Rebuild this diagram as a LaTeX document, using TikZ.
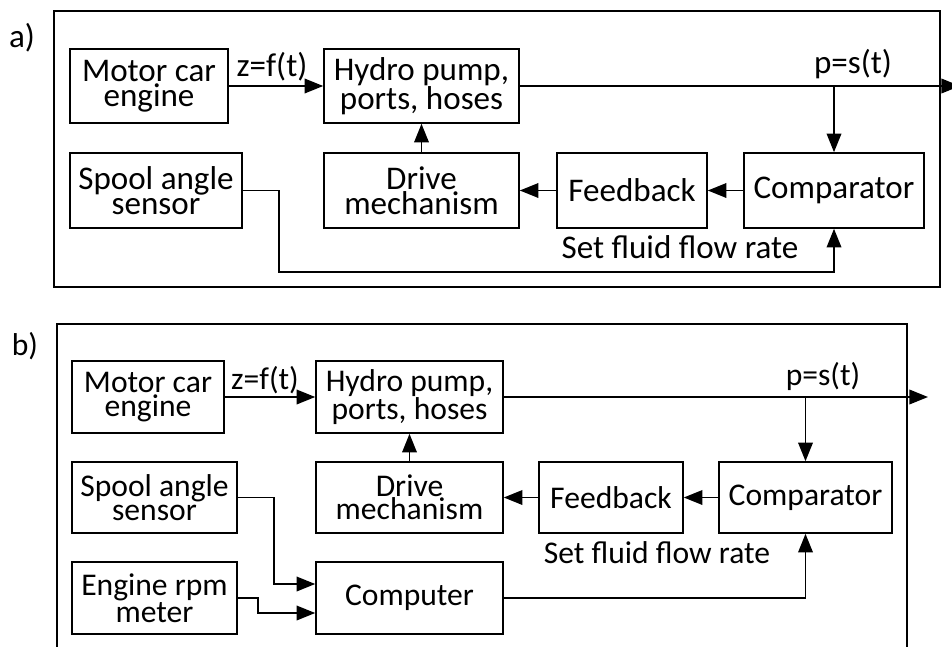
\documentclass[tikz,border=0pt]{standalone}
\usepackage{fontspec}
\setmainfont{Carlito}
\usetikzlibrary{arrows.meta}
\begin{document}
\begin{tikzpicture}[x=0.75pt,y=-0.75pt,
  line width=1.2pt,
  box/.style={draw, inner sep=0pt, align=center},
  fa/.style={font=\fontsize{24.8}{19}\selectfont},
  fb/.style={font=\fontsize{23.7}{17.5}\selectfont},
  arr/.style={-{Triangle[length=14pt,width=11pt]}},
  lbl/.style={inner sep=0pt}]
\useasboundingbox (0,0) rectangle (952,646);

% ---------- panel a ----------
\node[lbl,fa] (la) at (22,38) {a)};
\draw (54,11) rectangle (940,287);
\begin{scope}[every node/.append style={fa}]
\node[box, minimum width=118.5pt,  minimum height=55.5pt]  (motorA) at (149,86)    {Motor car\\engine};
\node[box, minimum width=146.25pt, minimum height=55.5pt]  (pumpA)  at (421.5,86)  {Hydro pump,\\ports, hoses};
\node[box, minimum width=129pt,    minimum height=56.25pt] (spoolA) at (156,190.5) {Spool angle\\sensor};
\node[box, minimum width=146.25pt, minimum height=56.25pt] (driveA) at (421.5,190.5) {Drive\\mechanism};
\node[box, minimum width=112.5pt,  minimum height=56.25pt] (feedA)  at (632,190.5) {Feedback};
\node[box, minimum width=135pt,    minimum height=56.25pt] (compA)  at (834,190.5) {Comparator};
\node[lbl] (zA) at (272,67) {z=f(t)};
\node[lbl] (pA) at (853,64) {p=s(t)};
\node[lbl] (sA) at (680,247) {Set fluid flow rate};
\end{scope}
\coordinate (outA) at (960,86);
\coordinate (brA) at (compA.north |- pumpA.east);
\draw[arr] (motorA.east) -- (pumpA.west);
\draw[arr] (pumpA.east) -- (outA);
\draw[arr] (brA) -- (compA.north);
\draw[arr] (driveA.north) -- (pumpA.south);
\draw[arr] (compA.west) -- (feedA.east);
\draw[arr] (feedA.west) -- (driveA.east);
\draw[arr] (spoolA.east) -- (279,190.5) -- (279,272) -- (compA.south |- 0,272) -- (compA.south);

% ---------- panel b ----------
\node[lbl,fb] (lb) at (25,346) {b)};
\draw (57,660) -- (57,324) -- (907,324) -- (907,660);
\begin{scope}[every node/.append style={fb}]
\node[box, minimum width=114pt,    minimum height=54pt]    (motorB) at (148,397)     {Motor car\\engine};
\node[box, minimum width=140.25pt, minimum height=54pt]    (pumpB)  at (409.5,397)   {Hydro pump,\\ports, hoses};
\node[box, minimum width=123.75pt, minimum height=53.25pt] (spoolB) at (154.5,497.5) {Spool angle\\sensor};
\node[box, minimum width=140.25pt, minimum height=53.25pt] (driveB) at (409.5,497.5) {Drive\\mechanism};
\node[box, minimum width=108pt,    minimum height=53.25pt] (feedB)  at (611,497.5)   {Feedback};
\node[box, minimum width=129.75pt, minimum height=53.25pt] (compB)  at (805.5,497.5) {Comparator};
\node[box, minimum width=123.75pt, minimum height=54pt]    (rpmB)   at (154.5,598)   {Engine rpm\\meter};
\node[box, minimum width=140.25pt, minimum height=54pt]    (compuB) at (409.5,598)   {Computer};
\node[lbl] (zB) at (265,380) {z=f(t)};
\node[lbl] (pB) at (823,376) {p=s(t)};
\node[lbl] (sB) at (657,553) {Set fluid flow rate};
\end{scope}
\coordinate (outB) at (928,397);
\coordinate (brB) at (compB.north |- pumpB.east);
\draw[arr] (motorB.east) -- (pumpB.west);
\draw[arr] (pumpB.east) -- (outB);
\draw[arr] (brB) -- (compB.north);
\draw[arr] (driveB.north) -- (pumpB.south);
\draw[arr] (compB.west) -- (feedB.east);
\draw[arr] (feedB.west) -- (driveB.east);
\draw[arr] (spoolB.east) -- (274,497.5) -- (274,584) -- (compuB.west |- 0,584);
\draw[arr] (rpmB.east) -- (258,598) -- (258,613) -- (compuB.west |- 0,613);
\draw[arr] (compuB.east) -- (compB.south |- compuB.east) -- (compB.south);
\end{tikzpicture}
\end{document}
